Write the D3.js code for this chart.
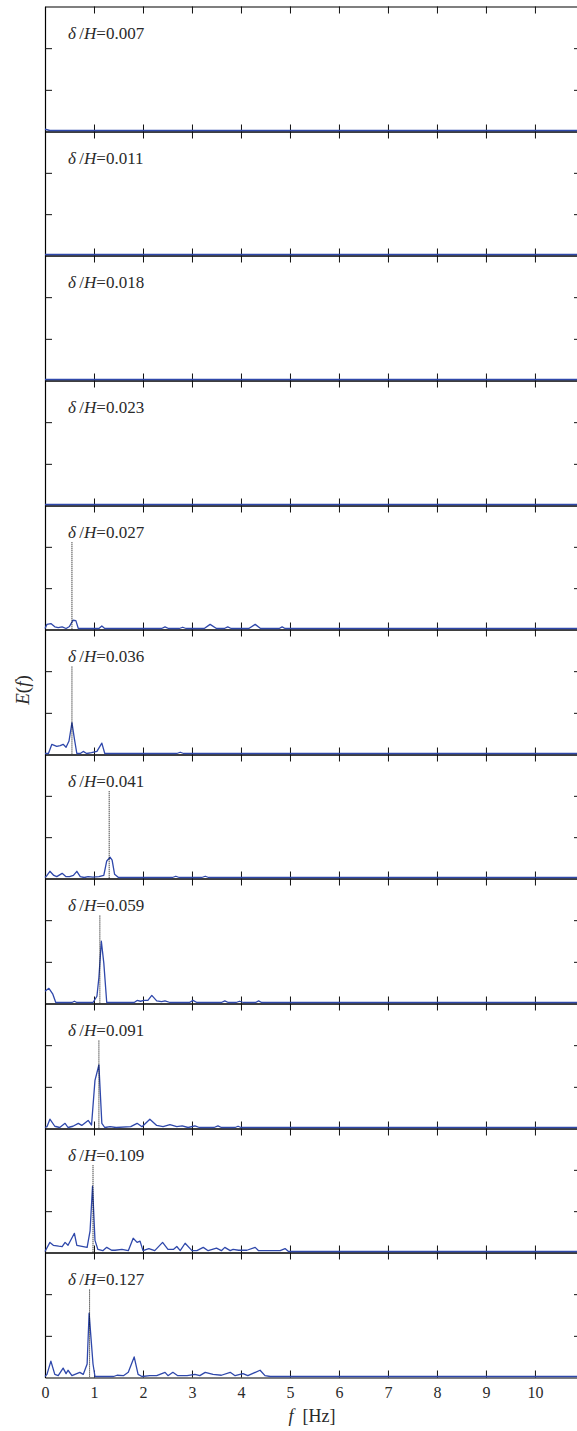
<!DOCTYPE html>
<html>
<head>
<meta charset="utf-8">
<script src="https://cdn.jsdelivr.net/npm/d3@7"></script>
<style>
  body { margin: 0; background: #fff; }
  svg text { font-family: "Liberation Serif", "Times New Roman", serif; fill: #2a2a2a; }
  .frame path { stroke: #000; stroke-width: 1.2; }
  .frame line { stroke: #111; stroke-width: 1; }
</style>
</head>
<body>
<svg class="chart" width="577" height="1431"></svg>
<script>
// delta/H for each panel, top to bottom
var ratios = ["0.007", "0.011", "0.018", "0.023", "0.027", "0.036", "0.041", "0.059", "0.091", "0.109", "0.127"];
// dominant frequency marked with a dotted line (null = none)
var peakFreq = [null, null, null, null, 0.55, 0.55, 1.31, 1.12, 1.10, 0.98, 0.91];

var xTicks = [0, 1, 2, 3, 4, 5, 6, 7, 8, 9, 10];
var yTicks = [1, 2];
var xMax = 10.94, yMax = 3;

// spectra, [f, E(f)] pairs
var s007 = [[0, 0.03], [0.1, 0], [xMax, 0]];
var s011 = [[0, 0], [xMax, 0]];
var s018 = [[0, 0], [xMax, 0]];
var s023 = [[0, 0], [xMax, 0]];
var s027 = [[0, 0], [0.04, 0.1], [0.12, 0.12], [0.2, 0.04], [0.27, 0.02], [0.35, 0.04], [0.43, 0], [0.5, 0.05],
  [0.57, 0.2], [0.63, 0.19], [0.68, 0], [1.1, 0], [1.16, 0.06], [1.22, 0], [2.38, 0], [2.45, 0.04], [2.52, 0],
  [2.74, 0], [2.81, 0.03], [2.88, 0], [3.25, 0], [3.37, 0.1], [3.5, 0], [3.66, 0], [3.73, 0.04], [3.8, 0],
  [4.16, 0], [4.29, 0.1], [4.4, 0], [4.78, 0], [4.84, 0.04], [4.9, 0], [xMax, 0]];
var s036 = [[0, 0], [0.07, 0], [0.14, 0.22], [0.24, 0.17], [0.31, 0.19], [0.37, 0.22], [0.43, 0.15], [0.49, 0.3],
  [0.55, 0.74], [0.6, 0.35], [0.65, 0], [0.72, 0], [0.78, 0.05], [0.85, 0], [0.95, 0.02], [1.06, 0.05],
  [1.16, 0.25], [1.22, 0], [2.69, 0], [2.76, 0.03], [2.83, 0], [xMax, 0]];
var s041 = [[0, 0], [0.04, 0.05], [0.1, 0.15], [0.18, 0.05], [0.24, 0.02], [0.35, 0.1], [0.43, 0.02], [0.5, 0.02],
  [0.58, 0.05], [0.65, 0.15], [0.72, 0.02], [0.8, 0], [0.88, 0.02], [0.98, 0.01], [1.1, 0.02], [1.2, 0.05],
  [1.26, 0.4], [1.33, 0.49], [1.37, 0.42], [1.42, 0.08], [1.5, 0], [2.6, 0], [2.67, 0.03], [2.74, 0],
  [3.2, 0], [3.27, 0.03], [3.34, 0], [xMax, 0]];
var s059 = [[0, 0.27], [0.08, 0.34], [0.16, 0.2], [0.22, 0], [0.55, 0], [0.6, 0.03], [0.65, 0], [0.98, 0],
  [1.06, 0.15], [1.1, 0.6], [1.15, 1.47], [1.2, 0.95], [1.26, 0], [1.82, 0], [1.88, 0.05], [1.95, 0.03],
  [2.02, 0.05], [2.1, 0.05], [2.18, 0.17], [2.28, 0.04], [2.38, 0.02], [2.45, 0.04], [2.55, 0], [2.95, 0],
  [3.02, 0.05], [3.1, 0], [3.6, 0], [3.67, 0.04], [3.74, 0], [3.9, 0], [3.97, 0.03], [4.05, 0], [4.3, 0],
  [4.36, 0.04], [4.42, 0], [xMax, 0]];
var s091 = [[0, 0], [0.04, 0.02], [0.1, 0.2], [0.2, 0.03], [0.3, 0], [0.41, 0.1], [0.47, 0], [0.57, 0.03],
  [0.68, 0.1], [0.75, 0.05], [0.88, 0.17], [0.95, 0.06], [1.02, 1.13], [1.1, 1.5], [1.16, 0.1], [1.22, 0],
  [1.33, 0.02], [1.45, 0], [1.75, 0.02], [1.88, 0.1], [1.98, 0.02], [2.14, 0.2], [2.28, 0.05], [2.41, 0.02],
  [2.55, 0.07], [2.69, 0.02], [2.8, 0.04], [2.92, 0], [3.06, 0.04], [3.15, 0], [3.45, 0], [3.53, 0.04],
  [3.6, 0], [3.88, 0], [3.94, 0.03], [4.0, 0], [xMax, 0]];
var s109 = [[0, 0], [0.1, 0.22], [0.17, 0.15], [0.28, 0.13], [0.35, 0.12], [0.41, 0.22], [0.47, 0.15],
  [0.6, 0.44], [0.65, 0.15], [0.78, 0.12], [0.86, 0.1], [0.92, 0.5], [0.97, 1.58], [1.02, 0.27], [1.08, 0.05],
  [1.18, 0.02], [1.26, 0.1], [1.36, 0.03], [1.43, 0.03], [1.57, 0.05], [1.7, 0.02], [1.8, 0.32], [1.88, 0.22],
  [1.94, 0.25], [2.0, 0.02], [2.12, 0.07], [2.24, 0.02], [2.4, 0.22], [2.51, 0.05], [2.62, 0.05], [2.69, 0.12],
  [2.76, 0.02], [2.86, 0.2], [3.0, 0.02], [3.1, 0.02], [3.23, 0.1], [3.33, 0.02], [3.5, 0.08], [3.6, 0.02],
  [3.67, 0.1], [3.78, 0.02], [3.84, 0.05], [3.95, 0.03], [4.12, 0.03], [4.29, 0.1], [4.36, 0.02], [4.8, 0.02],
  [4.9, 0.07], [4.97, 0], [xMax, 0]];
var s127 = [[0, 0], [0.04, 0.05], [0.12, 0.37], [0.2, 0.05], [0.27, 0.02], [0.37, 0.2], [0.43, 0.07],
  [0.47, 0.15], [0.55, 0.02], [0.71, 0.1], [0.78, 0.05], [0.86, 0.3], [0.9, 1.52], [0.98, 0.3], [1.02, 0],
  [1.4, 0], [1.47, 0.03], [1.6, 0.02], [1.7, 0.1], [1.82, 0.47], [1.9, 0.05], [1.98, 0], [2.14, 0.02],
  [2.28, 0.02], [2.45, 0.1], [2.51, 0.02], [2.61, 0.1], [2.71, 0.02], [2.9, 0.02], [3.06, 0.05], [3.16, 0.02],
  [3.27, 0.1], [3.43, 0.05], [3.6, 0.03], [3.78, 0.1], [3.88, 0.02], [4.04, 0.07], [4.14, 0.02], [4.39, 0.15],
  [4.49, 0.02], [4.6, 0], [xMax, 0]];
var spectra = [s007, s011, s018, s023, s027, s036, s041, s059, s091, s109, s127];

var top0 = 6.5, bottomAll = 1377.5;
var panelH = (bottomAll - top0) / ratios.length;
var markerTop = 2.11; // dotted line starts just under the label

var svg = d3.select(".chart");
var frames = svg.append("g");
var marks = svg.append("g");   // drawn on top of every frame

var x = d3.scaleLinear().domain([0, xMax]).range([45, 581]);

ratios.forEach(function(r, i) {
  // snap panel edges to the pixel grid so every baseline looks the same
  var top = Math.round(top0 + i * panelH - 0.5) + 0.5;
  var bottom = Math.round(top0 + (i + 1) * panelH - 0.5) + 0.5;
  var y = d3.scaleLinear().domain([0, yMax]).range([bottom, top]);

  frames.append("g").attr("class", "frame")
    .attr("transform", "translate(0," + top + ")")
    .call(d3.axisBottom(x).tickValues(xTicks).tickSize(7).tickSizeOuter(0).tickFormat(""));
  frames.append("g").attr("class", "frame")
    .attr("transform", "translate(0," + bottom + ")")
    .call(d3.axisTop(x).tickValues(xTicks).tickSize(7).tickSizeOuter(0).tickFormat(""));
  frames.append("g").attr("class", "frame")
    .attr("transform", "translate(" + x(0) + ",0)")
    .call(d3.axisRight(y).tickValues(yTicks).tickSize(7).tickSizeOuter(0).tickFormat(""));
  frames.append("g").attr("class", "frame")
    .attr("transform", "translate(" + x(xMax) + ",0)")
    .call(d3.axisLeft(y).tickValues(yTicks).tickSize(7).tickSizeOuter(0).tickFormat(""));

  marks.append("path")
    .datum(spectra[i])
    .attr("fill", "none")
    .attr("stroke", "#2f48ab")
    .attr("stroke-width", 1.3)
    .attr("stroke-linejoin", "round")
    .attr("transform", "translate(0,-1)")
    .attr("d", d3.line().x(function(d) { return x(d[0]); }).y(function(d) { return y(d[1]); }));

  if (peakFreq[i] != null) {
    marks.append("line")
      .attr("x1", x(peakFreq[i])).attr("x2", x(peakFreq[i]))
      .attr("y1", y(markerTop)).attr("y2", y(0))
      .attr("stroke", "#000")
      .attr("stroke-width", 1)
      .attr("stroke-dasharray", "1,1");
  }

  var lab = marks.append("text")
    .attr("x", 68)
    .attr("y", top + 32)
    .attr("font-size", 17);
  lab.append("tspan").attr("font-style", "italic").text("\u03b4");
  lab.append("tspan").text("\u2009/");
  lab.append("tspan").attr("font-style", "italic").text("H");
  lab.append("tspan").text("=" + r);
});

// tick labels under the last panel
var xl = svg.append("g")
  .attr("transform", "translate(0," + bottomAll + ")")
  .call(d3.axisBottom(x).tickValues(xTicks).tickSize(0).tickPadding(9.5));
xl.select(".domain").remove();
xl.selectAll("text").attr("font-size", 16).attr("font-family", "Liberation Serif");

var xt = svg.append("text")
  .attr("x", 312).attr("y", 1422)
  .attr("text-anchor", "middle")
  .attr("font-size", 18);
xt.append("tspan").attr("font-style", "italic").text("f");
xt.append("tspan").text("\u2002[Hz]");

var yt = svg.append("text")
  .attr("transform", "translate(29,690) rotate(-90)")
  .attr("text-anchor", "middle")
  .attr("font-size", 19);
yt.append("tspan").attr("font-style", "italic").text("E");
yt.append("tspan").text("(");
yt.append("tspan").attr("font-style", "italic").text("f");
yt.append("tspan").text(")");
</script>
</body>
</html>
